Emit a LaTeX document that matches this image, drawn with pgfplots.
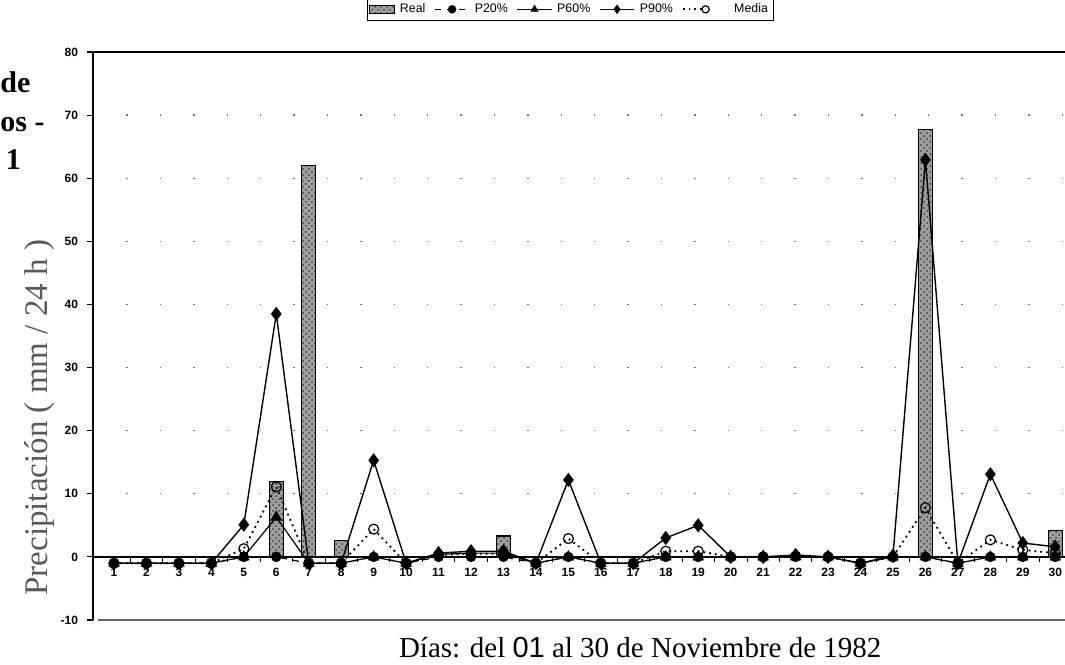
\documentclass[border=0pt]{standalone}
\usepackage{fontspec}
\setmainfont{Liberation Serif}
\newfontfamily\lsans{Liberation Sans}
\usepackage{pgfplots}
\pgfplotsset{compat=1.18}
\usepackage{pgfplotstable}
\usetikzlibrary{patterns}

\pgfplotsset{
  my line legend/.style={legend image code/.code={\draw[mark repeat=2,mark phase=2,##1,mark size=1.8pt] plot coordinates {(0cm,0cm) (0.3cm,0cm) (0.6cm,0cm)};}},
  my media legend/.style={legend image code/.code={\draw[##1,mark size=1.8pt, mark indices={2}] plot coordinates {(0cm,0cm) (0.4cm,0cm)};}},
  my real legend/.style={legend image code/.code={\draw[##1, line width=0.4pt] (0cm,-0.07cm) rectangle (0.45cm,0.07cm);}},
}

\pgfplotstableread{
day real
6 12
7 62
8 2.6
13 3.3
26 67.7
30 4.2
}\realtab

\pgfplotstableread{
day p20 p60 p90 media
1 -1 -1 -1 -1
2 -1 -1 -1 -1
3 -1 -1 -1 -1
4 -1 -1 -1 -1
5 0 0 5.1 1.3
6 0 6.3 38.5 11.1
7 -1 -1 -1 -1
8 -1 -1 -1 -1
9 0 0 15.3 4.4
10 -1 -1 -1 -1
11 0 0.4 0.6 0.3
12 0 0.6 0.9 0.5
13 0 0.6 0.9 0.5
14 -1 -1 -1 -1
15 0 0 12.2 2.9
16 -1 -1 -1 -1
17 -1 -1 -1 -1
18 0 0 3.0 0.9
19 0 0 5.0 0.9
20 0 0 0 0
21 0 0 0 0
22 0 0 0.3 0.1
23 0 0 0 0
24 -1 -1 -1 -1
25 0 0 0.2 0
26 0 0 62.9 7.8
27 -1 -1 -1 -1
28 0 0 13.1 2.7
29 0 0 2.2 1.1
30 0 0 1.6 0.6
}\predtab

\begin{document}
\begin{tikzpicture}
\useasboundingbox (-46.5pt,-22pt) rectangle (486pt,310pt);
\node[anchor=base west, inner sep=0pt, font=\fontsize{15}{17}\selectfont\bfseries] at (-46.5pt,263.5pt) {de};
\node[anchor=base west, inner sep=0pt, font=\fontsize{15}{17}\selectfont\bfseries] at (-46.5pt,244pt) {os -};
\node[anchor=base, inner sep=0pt, font=\fontsize{15}{17}\selectfont\bfseries] at (-39.75pt,225pt) {1};
\begin{axis}[
  scale only axis, width=486pt, height=284pt,
  at={(0pt,0pt)}, anchor=south west,
  xmin=0.353, xmax=30.3, ymin=-10, ymax=80,
  axis x line=middle, axis y line=left,
  axis line style={-, black},
  x axis line style={line width=0.8pt},
  y axis line style={line width=1pt},
  every inner x axis line/.append style={-},
  every outer y axis line/.append style={-},
  xtick={1,...,30},
  minor x tick num=1,
  major x tick style={draw=none},
  minor x tick style={black, line width=0.4pt},
  minor tick length=2.5pt,
  ytick={-10,0,...,80},
  y tick style={black, line width=0.6pt},
  major tick length=3pt,
  tick align=outside,
  ymajorgrids,
  grid style={black!55, line width=0.7pt, dash pattern=on 0.7pt off 16pt},
  /pgf/number format/assume math mode=true,
  ticklabel style={font=\lsans\bfseries\fontsize{6}{7}\selectfont},
  xticklabel style={yshift=1pt},
  yticklabel style={xshift=-1pt},
  ylabel={Precipitación ( mm / 24 h )},
  ylabel style={at={([xshift=-26.5pt]rel axis cs:0,0.356)}, anchor=center, font=\fontsize{16.5}{18}\selectfont, text=black!65},
  xlabel={Días: del {\lsans 01} al 30 de Noviembre de 1982},
  xlabel style={at={(rel axis cs:0.563,0)}, anchor=center, yshift=-14pt, font=\fontsize{14.5}{16}\selectfont},
  my line legend,
  legend style={at={(rel axis cs:0.491,1)}, anchor=south, yshift=15.5pt,
    font=\lsans\fontsize{6.2}{6.5}\selectfont, draw=black, line width=0.5pt,
    inner sep=0.6pt, legend columns=-1,
    /tikz/every even column/.append style={column sep=2.5pt},
    /tikz/every odd column/.append style={column sep=0.5pt}},
  clip=false,
]
\addplot[ybar, bar width=7pt, draw=black, line width=0.6pt, fill=black!38,
  postaction={pattern=crosshatch dots, pattern color=black!75},
  my real legend] table[x=day,y=real]{\realtab};
\addlegendentry{Real}
\addplot[black, line width=0.6pt, dash pattern=on 3pt off 3pt, mark=*, mark size=2.3pt, mark options={solid}] table[x=day,y=p20]{\predtab};
\addlegendentry{P20\%}
\addplot[black, line width=0.6pt, mark=triangle*, mark size=2.8pt] table[x=day,y=p60]{\predtab};
\addlegendentry{P60\%}
\addplot[black, line width=0.7pt, mark=diamond*, mark size=3pt] table[x=day,y=p90]{\predtab};
\addlegendentry{P90\%}
\addplot[black, line width=0.9pt, dotted, mark=o, mark size=2.5pt, mark options={solid, fill=white, line width=0.6pt}, my media legend] table[x=day,y=media]{\predtab};
\addlegendentry{\hspace{10pt}Media}
\draw[line width=1pt] (rel axis cs:0,1) -- (rel axis cs:1,1);
\draw[black!60, line width=0.8pt] (rel axis cs:0.005,0) -- (rel axis cs:1,0);
\end{axis}
\end{tikzpicture}
\end{document}
